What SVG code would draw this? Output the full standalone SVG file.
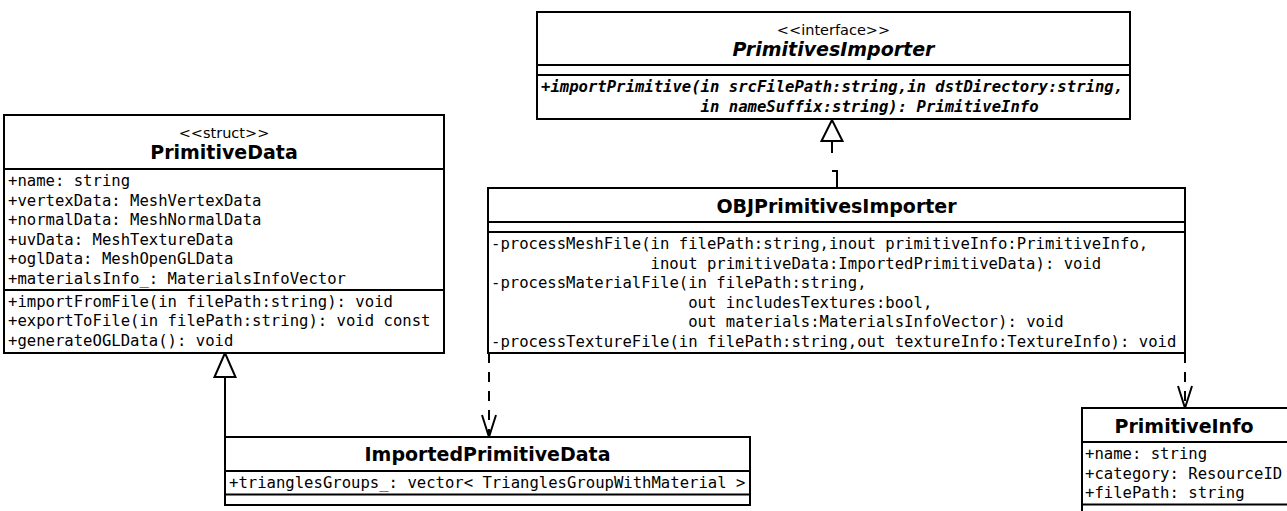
<svg xmlns="http://www.w3.org/2000/svg" width="1287" height="511" viewBox="0 0 1287 511">
<style>
.box{fill:#fff;stroke:#000;stroke-width:2}
.sep{stroke:#000;stroke-width:2}
.mem{font-family:"DejaVu Sans Mono",monospace;font-size:15.6px;fill:#000}
.abs{font-weight:bold;font-style:oblique}
.title{font-family:"DejaVu Sans",sans-serif;font-weight:bold;font-size:19px;text-anchor:middle;fill:#000}
.st{font-family:"DejaVu Sans",sans-serif;font-size:14.5px;text-anchor:middle;fill:#000}
.dash{fill:none;stroke:#000;stroke-width:2;stroke-dasharray:10,9}
.solid{fill:none;stroke:#000;stroke-width:2}
.head{fill:#fff;stroke:#000;stroke-width:2}
</style>
<rect width="1287" height="511" fill="#fff"/>
<g id="connectors">
<line class="solid" x1="225" y1="377" x2="225" y2="437"/>
<polygon class="head" points="225,353 214.5,377 235.5,377"/>
<path d="M837,188 V171 H832 V140" fill="none" stroke="#000" stroke-width="2" stroke-dasharray="22,18"/>
<polygon class="head" points="832,120 821.5,141 842.5,141"/>
<line class="dash" x1="489" y1="353" x2="489" y2="436"/>
<path class="solid" d="M482,415 L489,437 L496,415"/>
<line class="dash" x1="1185" y1="353" x2="1185" y2="407"/>
<path class="solid" d="M1178,386 L1185,408 L1192,386"/>
</g>
<g id="PrimitivesImporter">
<rect class="box" x="537" y="12" width="593" height="107"/>
<line class="sep" x1="537" y1="65" x2="1130" y2="65"/>
<line class="sep" x1="537" y1="75" x2="1130" y2="75"/>
<text class="st" x="833.5" y="35">&lt;&lt;interface&gt;&gt;</text>
<text class="title abs" x="833.5" y="56">PrimitivesImporter</text>
<text class="mem abs" x="541" y="92">+importPrimitive(in srcFilePath:string,in dstDirectory:string,</text>
<text class="mem abs" x="700.6" y="111.5">in nameSuffix:string): PrimitiveInfo</text>
</g>
<g id="PrimitiveData">
<rect class="box" x="4" y="115" width="440" height="238"/>
<line class="sep" x1="4" y1="169" x2="444" y2="169"/>
<line class="sep" x1="4" y1="290" x2="444" y2="290"/>
<text class="st" x="224" y="138">&lt;&lt;struct&gt;&gt;</text>
<text class="title" x="224" y="159">PrimitiveData</text>
<text class="mem" x="8" y="186">+name: string</text>
<text class="mem" x="8" y="205.5">+vertexData: MeshVertexData</text>
<text class="mem" x="8" y="225">+normalData: MeshNormalData</text>
<text class="mem" x="8" y="244.5">+uvData: MeshTextureData</text>
<text class="mem" x="8" y="264">+oglData: MeshOpenGLData</text>
<text class="mem" x="8" y="283.5">+materialsInfo_: MaterialsInfoVector</text>
<text class="mem" x="8" y="306.5">+importFromFile(in filePath:string): void</text>
<text class="mem" x="8" y="326">+exportToFile(in filePath:string): void const</text>
<text class="mem" x="8" y="345.5">+generateOGLData(): void</text>
</g>
<g id="OBJPrimitivesImporter">
<rect class="box" x="488" y="188" width="697" height="165"/>
<line class="sep" x1="488" y1="222" x2="1185" y2="222"/>
<line class="sep" x1="488" y1="232" x2="1185" y2="232"/>
<text class="title" x="836.5" y="212.5">OBJPrimitivesImporter</text>
<text class="mem" x="491" y="249">-processMeshFile(in filePath:string,inout primitiveInfo:PrimitiveInfo,</text>
<text class="mem" x="650.6" y="268.5">inout primitiveData:ImportedPrimitiveData): void</text>
<text class="mem" x="491" y="288">-processMaterialFile(in filePath:string,</text>
<text class="mem" x="688.2" y="307.5">out includesTextures:bool,</text>
<text class="mem" x="688.2" y="327">out materials:MaterialsInfoVector): void</text>
<text class="mem" x="491" y="346.5">-processTextureFile(in filePath:string,out textureInfo:TextureInfo): void</text>
</g>
<g id="ImportedPrimitiveData">
<rect class="box" x="225" y="437" width="525" height="68"/>
<line class="sep" x1="225" y1="471" x2="750" y2="471"/>
<line class="sep" x1="225" y1="494.5" x2="750" y2="494.5"/>
<text class="title" x="487.5" y="461">ImportedPrimitiveData</text>
<text class="mem" x="229" y="488">+trianglesGroups_: vector&lt; TrianglesGroupWithMaterial &gt;</text>
</g>
<g id="PrimitiveInfo">
<rect class="box" x="1082" y="408" width="210" height="120"/>
<line class="sep" x1="1082" y1="442" x2="1292" y2="442"/>
<line class="sep" x1="1082" y1="504.5" x2="1292" y2="504.5"/>
<text class="title" x="1184" y="432.5">PrimitiveInfo</text>
<text class="mem" x="1085" y="459">+name: string</text>
<text class="mem" x="1085" y="478.5">+category: ResourceID</text>
<text class="mem" x="1085" y="498">+filePath: string</text>
</g>
</svg>
